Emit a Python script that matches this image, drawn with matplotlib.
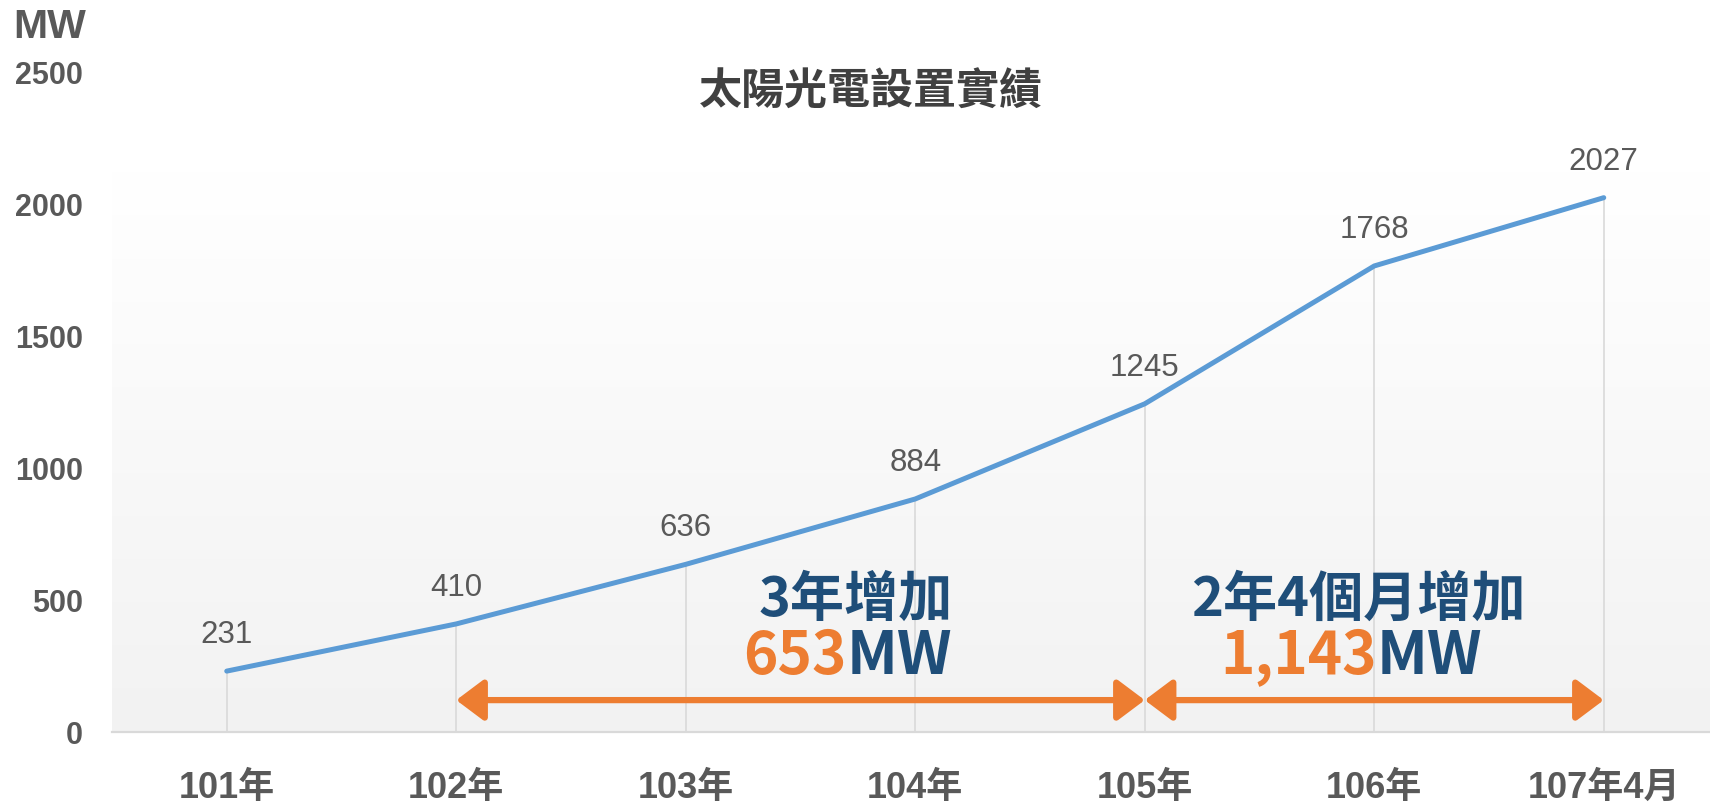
import numpy as np
import matplotlib
matplotlib.use("Agg")
import matplotlib.pyplot as plt
from matplotlib.colors import LinearSegmentedColormap

# data
years = ["101年", "102年", "103年", "104年", "105年", "106年", "107年4月"]
capacity = [231, 410, 636, 884, 1245, 1768, 2027]
yticks = [0, 500, 1000, 1500, 2000, 2500]

span_starts = [1, 4]
span_ends = [4, 6]
span_titles = ["3年增加", "2年4個月增加"]
span_values = ["653", "1,143"]

GRAY = "#595959"
BLUE = "#5b9bd5"
ORANGE = "#ed7d31"
NAVY = "#1f4e79"
LATIN = ["Liberation Sans", "Noto Sans CJK TC"]
CJK = ["Noto Sans CJK TC", "DejaVu Sans"]

fig = plt.figure(figsize=(17.1, 8.06), dpi=100)
ax = fig.add_axes([112 / 1710, 74 / 806, 7 * 229.5 / 1710, 659 / 806])
x = np.arange(len(years))
ax.set_xlim(-0.5, 6.5)
ax.set_ylim(0, 2500)

# background gradient, white near the top
cmap = LinearSegmentedColormap.from_list("bg", [(0, "#f2f2f2"), (0.85, "#ffffff"), (1, "#ffffff")])
grad = np.linspace(0, 1, 256).reshape(-1, 1)
ax.imshow(grad, cmap=cmap, aspect="auto", extent=[-0.5, 6.5, 0, 2500],
          origin="lower", zorder=0)

# drop lines
ax.vlines(x, 0, capacity, color="#d9d9d9", lw=1.2, zorder=1)

ax.plot(x, capacity, color=BLUE, lw=3.6, solid_capstyle="round",
        solid_joinstyle="round", zorder=3)

for xi, v in zip(x, capacity):
    ax.annotate(str(v), (xi, v), xytext=(0, 26), textcoords="offset points",
                ha="center", va="center", fontsize=22.5, color=GRAY,
                family=LATIN)

# span arrows
for s, e in zip(span_starts, span_ends):
    ax.annotate("", xy=(e, 121), xytext=(s, 121),
                arrowprops=dict(arrowstyle="<|-|>,head_length=0.4,head_width=0.3",
                                mutation_scale=42, color=ORANGE, lw=4.5,
                                shrinkA=0, shrinkB=0), zorder=4)

title_x = [2.74, 4.93]
split_x = [2.70, 5.01]
for tx, sx, t, v in zip(title_x, split_x, span_titles, span_values):
    ax.text(tx, 501, t, ha="center", va="center", fontsize=39,
            fontweight="bold", color=NAVY, family=CJK, zorder=5)
    ax.text(sx, 285, v, ha="right", va="center", fontsize=42,
            fontweight="bold", color=ORANGE, family=CJK, zorder=5)
    ax.text(sx, 285, "MW", ha="left", va="center", fontsize=43,
            fontweight="bold", color=NAVY, family=CJK, zorder=5)

ax.set_xticks(x)
ax.set_xticklabels(years)
ax.set_yticks(yticks)
ax.tick_params(length=0)
ax.tick_params(axis="x", pad=28)
ax.tick_params(axis="y", pad=21)
for lab in ax.get_xticklabels():
    lab.set_family(LATIN)
    lab.set_fontsize(26)
    lab.set_fontweight("bold")
    lab.set_color(GRAY)
for lab in ax.get_yticklabels():
    lab.set_family(LATIN)
    lab.set_fontsize(22)
    lab.set_fontweight("bold")
    lab.set_color(GRAY)

for side in ["top", "right", "left"]:
    ax.spines[side].set_visible(False)
ax.spines["bottom"].set_color("#d9d9d9")
ax.spines["bottom"].set_linewidth(1.6)

fig.text(50 / 1710, 1 - 27 / 806, "MW", ha="center", va="center",
         fontsize=29.5, fontweight="bold", color=GRAY, family=LATIN)
fig.text(871 / 1710, 1 - 92 / 806, "太陽光電設置實績", ha="center", va="center",
         fontsize=31, fontweight="bold", color="#404040", family=CJK)

fig.savefig("out.png", dpi=100)
